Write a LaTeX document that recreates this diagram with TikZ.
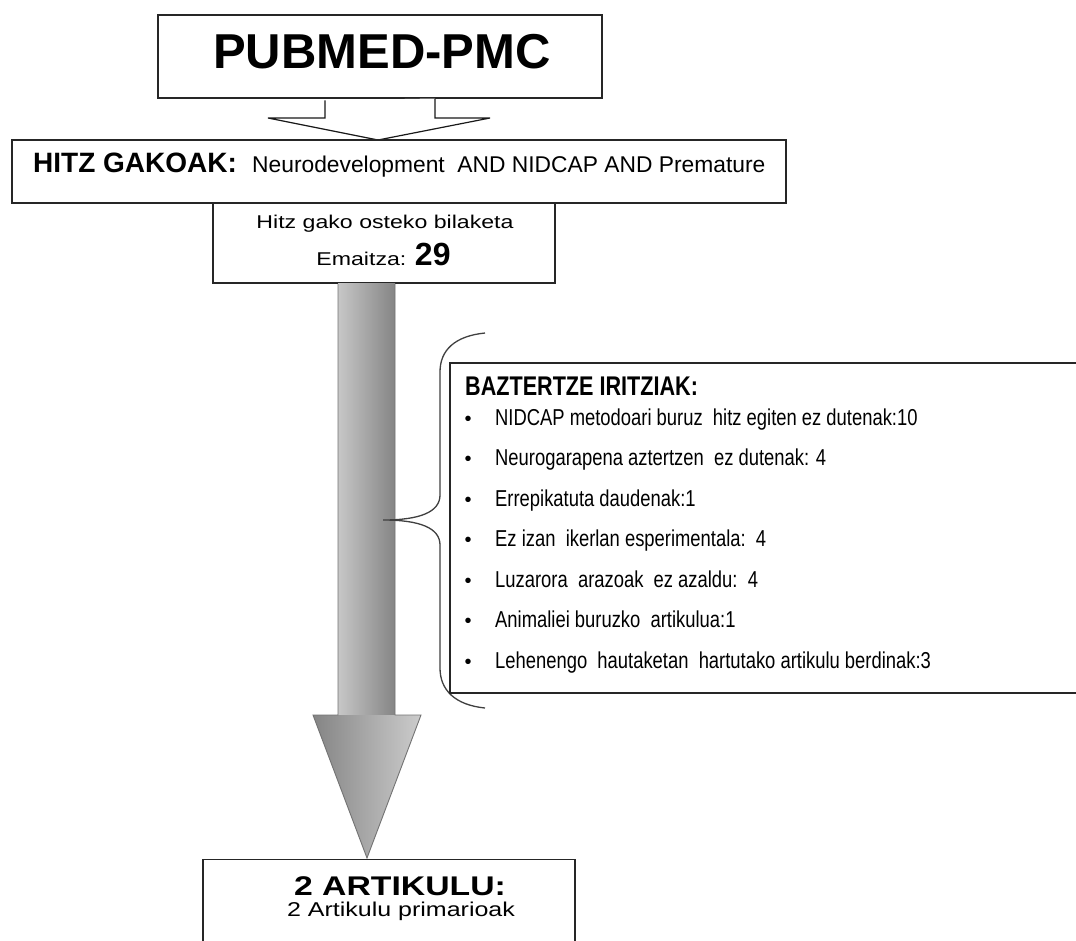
\documentclass[tikz,border=0pt]{standalone}
\usepackage{fontspec}
\setmainfont{Liberation Sans}
\newfontfamily\widesans[FakeStretch=1.25]{Liberation Sans}
\newfontfamily\narrowsans[FakeStretch=0.8]{Liberation Sans}
\newcommand{\setsz}[1]{\fontsize{#1pt}{#1pt}\selectfont}

\begin{document}
\begin{tikzpicture}[x=1pt, y=-1pt,
    frame/.style={draw=black!85, line width=1.6pt, fill=white, inner sep=0pt},
    lbl/.style={inner sep=0pt, anchor=base west},
    ctr/.style={inner sep=0pt, anchor=base},
    item/.style={lbl, font=\narrowsans\setsz{23}},
    dot/.style={ctr, font=\setsz{20}}]
    \clip (0,0) rectangle (1076,940);
    \fill[white] (0,0) rectangle (1076,940);

    % source
    \node[frame, minimum width=444pt, minimum height=83pt] (pubmed) at (380,56.5) {};
    \node[ctr, font=\bfseries\setsz{49}] (pubmedtxt) at (382,68) {PUBMED-PMC};

    % hollow arrow
    \draw[black!90, fill=white, line width=1.2pt] (325,0 |- pubmed.south) ++(0,1.5) -- (325,118) -- (268,118) -- (378,140) -- (490,118) -- (435,118) -- ++(0,-19.5);

    % keywords
    \node[frame, minimum width=774pt, minimum height=63pt] (gako) at (399,171.5) {};
    \node[lbl, font=\bfseries\setsz{28}] (gakotit) at (33,172) {HITZ GAKOAK:};
    \node[lbl, font=\setsz{22.8}] (gakotxt) at (252,172) {Neurodevelopment\ \ AND NIDCAP AND Premature};

    % search result
    \node[frame, minimum width=342pt, minimum height=80pt] (emaitza) at (384,243) {};
    \node[ctr, font=\widesans\setsz{18.5}] (bilaketa) at (385,228) {Hitz gako osteko bilaketa};
    \node[ctr, font=\widesans\setsz{18.5}] (emaitzatxt) at (383.5,265) {Emaitza: {\rmfamily\bfseries\setsz{32}29}};

    % grey arrow
    \shade[left color=black!22, right color=black!48] (338,0 |- emaitza.south) rectangle (395,715);
    \shade[left color=black!48, right color=black!20] (313,715) -- (421,715) -- (367,858) -- cycle;
    \draw[black!55, line width=0.9pt] (338,0 |- emaitza.south) -- (338,715) -- (313,715) -- (367,858) -- (421,715) -- (395,715) -- (395,0 |- emaitza.south);

    % brace
    \draw[black!75, line width=1.3pt] (485,333) .. controls (455,336) and (440,350) .. (440,372) -- (440,495)
        .. controls (440,512) and (420,520) .. (383,520)
        .. controls (420,520) and (440,528) .. (440,545) -- (440,668)
        .. controls (440,690) and (455,705) .. (485,708);

    % exclusion criteria
    \node[frame, minimum width=640pt, minimum height=330pt] (baztertze) at (770,528) {};
    \node[lbl, font=\narrowsans\bfseries\setsz{27}] (baztit) at (465,395) {BAZTERTZE IRITZIAK:};
    \node[dot] (d1) at (468,425) {\textbullet};
    \node[item] (c1) at (495,425) {NIDCAP metodoari buruz\ \ hitz egiten ez dutenak:10};
    \node[dot] (d2) at (468,465.5) {\textbullet};
    \node[item] (c2) at (495,465.5) {Neurogarapena aztertzen\ \ ez dutenak: 4};
    \node[dot] (d3) at (468,506) {\textbullet};
    \node[item] (c3) at (495,506) {Errepikatuta daudenak:1};
    \node[dot] (d4) at (468,546.5) {\textbullet};
    \node[item] (c4) at (495,546.5) {Ez izan\ \ ikerlan esperimentala:\ \ 4};
    \node[dot] (d5) at (468,587) {\textbullet};
    \node[item] (c5) at (495,587) {Luzarora\ \ arazoak\ \ ez azaldu:\ \ 4};
    \node[dot] (d6) at (468,627.5) {\textbullet};
    \node[item] (c6) at (495,627.5) {Animaliei buruzko\ \ artikulua:1};
    \node[dot] (d7) at (468,668) {\textbullet};
    \node[item] (c7) at (495,668) {Lehenengo\ \ hautaketan\ \ hartutako artikulu berdinak:3};

    % result
    \node[frame, minimum width=372pt, minimum height=100pt] (artikulu) at (389,909.5) {};
    \node[ctr, font=\widesans\bfseries\setsz{27}] (artikulutit) at (400,895) {2 ARTIKULU:};
    \node[ctr, font=\widesans\setsz{20}] (artikulutxt) at (401,916) {2 Artikulu primarioak};
\end{tikzpicture}
\end{document}
